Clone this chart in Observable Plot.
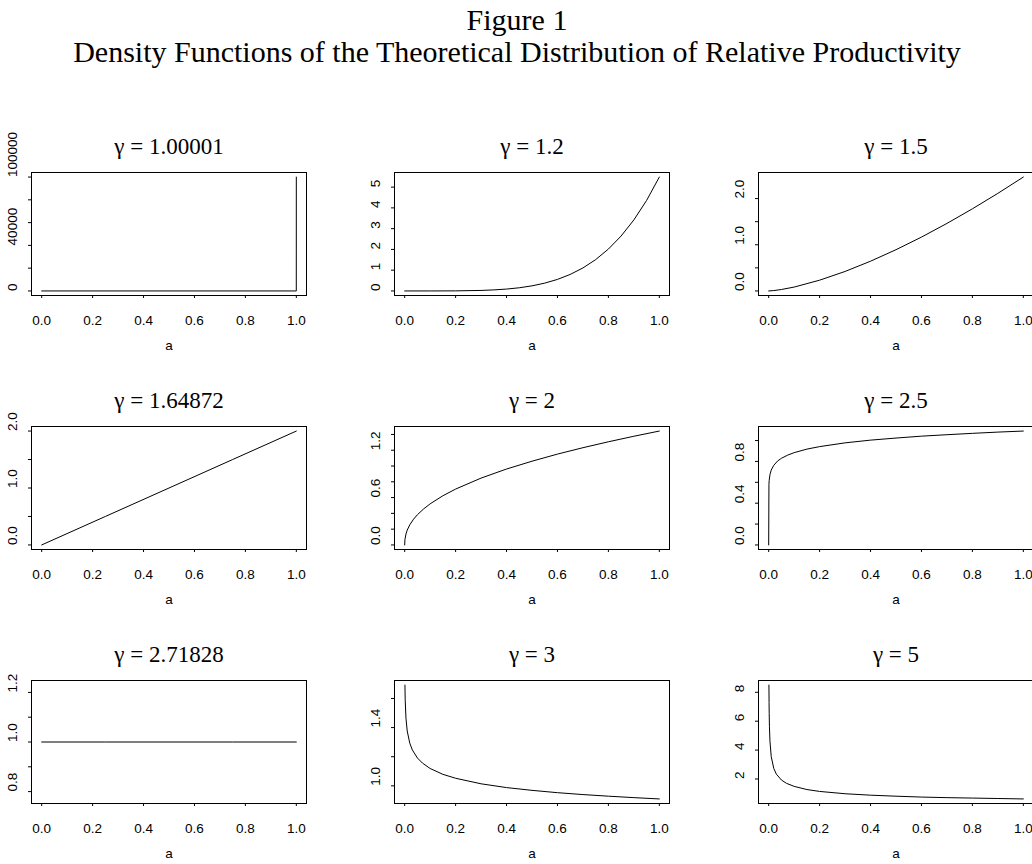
<!DOCTYPE html>
<html><head><meta charset="utf-8">
<script src="https://cdn.jsdelivr.net/npm/d3@7"></script>
<script src="https://cdn.jsdelivr.net/npm/@observablehq/plot@0.6"></script>
<style>
html,body{margin:0;padding:0;background:#fff;}
#fig{position:relative;width:1032px;height:864px;overflow:hidden;background:#fff;}
.ttl{position:absolute;left:0;width:1034px;text-align:center;font-family:"Liberation Serif","Times New Roman",serif;font-size:30px;line-height:30px;color:#000;white-space:nowrap;}
.panel{position:absolute;}
.panel svg{max-width:none !important;height:auto;display:block;}
</style></head><body><div id="fig">
<div class="ttl" style="top:5px">Figure 1</div>
<div class="ttl" style="top:37px">Density Functions of the Theoretical Distribution of Relative Productivity</div>
</div>
<script>
// gamma values shown in panel titles
const gammas = ["1.00001","1.2","1.5","1.64872","2","2.5","2.71828","3","5"];

// values (a = relative productivity, d = density)
const a1 = [0, 0.999, 0.9999, 0.99999, 1];
const d1 = [0, 0, 4.5, 36788, 100000];

const a2 = [0,0.1,0.2,0.3,0.35,0.4,0.45,0.5,0.55,0.6,0.65,0.7,0.75,0.8,0.85,0.9,0.95,1];
const d2 = [0,0.0002,0.004,0.025,0.050,0.090,0.153,0.245,0.376,0.555,0.795,1.108,1.509,2.016,2.646,3.419,4.358,5.485];

const a3 = [0,0.02,0.05,0.1,0.2,0.3,0.4,0.5,0.6,0.7,0.8,0.9,1];
const d3v = [0,0.008,0.031,0.084,0.233,0.422,0.644,0.893,1.166,1.462,1.778,2.113,2.466];

const a4 = [0,0.25,0.5,0.75,1];
const d4 = [0,0.5,1,1.5,2];

const a5 = [0,0.001,0.005,0.01,0.02,0.035,0.05,0.075,0.1,0.15,0.2,0.3,0.4,0.5,0.6,0.7,0.8,0.9,1];
const d5 = [0,0.068,0.138,0.188,0.255,0.327,0.383,0.458,0.521,0.623,0.708,0.847,0.962,1.061,1.151,1.232,1.307,1.377,1.443];

const a6 = [0,0.001,0.002,0.005,0.01,0.02,0.035,0.05,0.075,0.1,0.15,0.2,0.3,0.4,0.5,0.6,0.7,0.8,0.9,1];
const d6 = [0,0.581,0.619,0.673,0.717,0.763,0.804,0.830,0.861,0.884,0.918,0.942,0.978,1.004,1.024,1.042,1.056,1.069,1.081,1.091];

const a7 = [0,0.25,0.5,0.75,1];
const d7 = [1,1,1,1,1];

const a8 = [0.001,0.002,0.005,0.01,0.02,0.03,0.05,0.07,0.1,0.15,0.2,0.3,0.4,0.5,0.6,0.7,0.8,0.9,1];
const d8 = [1.692,1.590,1.465,1.376,1.293,1.247,1.191,1.156,1.119,1.079,1.052,1.014,0.988,0.969,0.953,0.940,0.929,0.919,0.910];

const a9 = [0.001,0.0015,0.002,0.003,0.005,0.01,0.02,0.03,0.05,0.07,0.1,0.15,0.2,0.3,0.4,0.5,0.6,0.7,0.8,0.9,1];
const d9 = [8.50,7.29,6.54,5.61,4.62,3.55,2.73,2.34,1.93,1.70,1.49,1.27,1.14,0.98,0.88,0.81,0.75,0.71,0.68,0.65,0.62];

// tick marks and tick labels
const xTicks = [0,0.2,0.4,0.6,0.8,1.0];
const yTicks1 = [0,20000,40000,60000,80000,100000], yLabels1 = ["0","40000","100000"];
const yTicks2 = [0,1,2,3,4,5], yLabels2 = ["0","1","2","3","4","5"];
const yTicks3 = [0,0.5,1,1.5,2], yLabels3 = ["0.0","1.0","2.0"];
const yTicks4 = [0,0.5,1,1.5,2], yLabels4 = ["0.0","1.0","2.0"];
const yTicks5 = [0,0.2,0.4,0.6,0.8,1.0,1.2,1.4], yLabels5 = ["0.0","0.6","1.2"];
const yTicks6 = [0,0.2,0.4,0.6,0.8,1.0], yLabels6 = ["0.0","0.4","0.8"];
const yTicks7 = [0.8,0.9,1.0,1.1,1.2], yLabels7 = ["0.8","1.0","1.2"];
const yTicks8 = [1.0,1.2,1.4,1.6], yLabels8 = ["1.0","1.4"];
const yTicks9 = [2,4,6,8], yLabels9 = ["2","4","6","8"];
const yLim7 = [0.752, 1.248];

const panels = [
  {a:a1,d:d1,ticks:yTicks1,labels:yLabels1},
  {a:a2,d:d2,ticks:yTicks2,labels:yLabels2},
  {a:a3,d:d3v,ticks:yTicks3,labels:yLabels3},
  {a:a4,d:d4,ticks:yTicks4,labels:yLabels4},
  {a:a5,d:d5,ticks:yTicks5,labels:yLabels5},
  {a:a6,d:d6,ticks:yTicks6,labels:yLabels6},
  {a:a7,d:d7,ticks:yTicks7,labels:yLabels7,lim:yLim7},
  {a:a8,d:d8,ticks:yTicks8,labels:yLabels8},
  {a:a9,d:d9,ticks:yTicks9,labels:yLabels9}
];

const fig = document.getElementById("fig");
const boxLefts = [31,394,758], boxTops = [172,426,680], boxW = 275, boxH = 123;
const ML = 40, MR = 10, MT = 45, MB = 70;
const W = ML + boxW + MR, H = MT + boxH + MB;
const sans = "'Liberation Sans',Arial,Helvetica,sans-serif";
const serif = "'Liberation Serif','Times New Roman',serif";
const tickFont = 13.5;

panels.forEach((p, i) => {
  const col = i % 3, row = Math.floor(i / 3);
  const rows = p.a.map((a, j) => ({a, d: p.d[j]}));
  const lo = d3.min(p.d), hi = d3.max(p.d);
  const dom = p.lim ? p.lim : [lo - 0.04 * (hi - lo), hi + 0.04 * (hi - lo)];
  const chart = Plot.plot({
    width: W, height: H,
    marginLeft: ML, marginRight: MR, marginTop: MT, marginBottom: MB,
    style: {fontFamily: sans, fontSize: tickFont + "px", background: "transparent", color: "#000", overflow: "visible", maxWidth: "none"},
    x: {domain: [-0.04, 1.04]},
    y: {domain: dom},
    marks: [
      Plot.frame({stroke: "#000", strokeWidth: 1}),
      Plot.axisX(xTicks, {tickSize: 3, tickPadding: 17, tickFormat: d3.format(".1f"), fontSize: tickFont, label: null}),
      Plot.axisY(p.ticks, {tickSize: 3, tickFormat: () => "", label: null}),
      Plot.text(p.labels, {y: s => +s, text: s => s, frameAnchor: "left", rotate: -90, dx: -19, fontSize: tickFont}),
      Plot.line(rows, {x: "a", y: "d", stroke: "#000", strokeWidth: 1}),
      Plot.text(["a"], {text: d => d, frameAnchor: "bottom", dy: 54, fontSize: tickFont}),
      Plot.text([`γ = ${gammas[i]}`], {text: d => d, frameAnchor: "top", dy: -34.5, fontSize: 23, fontFamily: serif})
    ]
  });
  const div = document.createElement("div");
  div.className = "panel";
  div.style.left = (boxLefts[col] - ML) + "px";
  div.style.top = (boxTops[row] - MT) + "px";
  div.style.width = W + "px";
  div.style.height = H + "px";
  chart.style.maxWidth = "none";
  chart.setAttribute("width", W);
  chart.setAttribute("height", H);
  div.appendChild(chart);
  fig.appendChild(div);
});
</script>
</body></html>
